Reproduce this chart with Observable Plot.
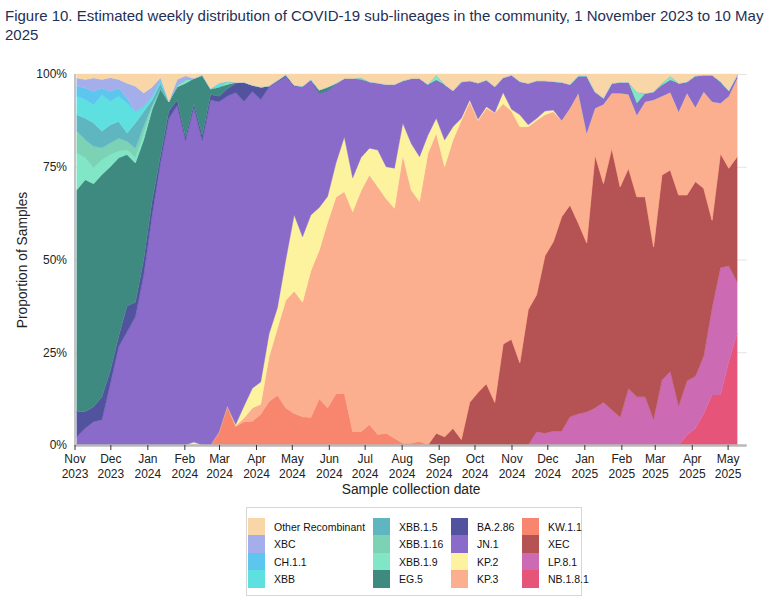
<!DOCTYPE html>
<html>
<head>
<meta charset="utf-8">
<script src="https://cdn.jsdelivr.net/npm/d3@7"></script>
<script src="https://cdn.jsdelivr.net/npm/@observablehq/plot@0.6"></script>
<style>
  html, body { margin: 0; padding: 0; background: #fff; }
  body { width: 772px; height: 604px; overflow: hidden; position: relative; font-family: "Liberation Sans", Arial, sans-serif; }
  #title { position: absolute; left: 5px; top: 6px; font-size: 15px; line-height: 19px; color: #1f2f56; white-space: nowrap; }
  #chart { position: absolute; left: 0; top: 60px; }
  #legend { position: absolute; left: 246px; top: 507px; width: 336px; height: 89px; border: 1px solid #d6d6d6; box-sizing: border-box; }
  .item { position: absolute; height: 17.6px; font-size: 10.5px; color: #111; }
  .sw { position: absolute; left: 0; top: 0; width: 17px; height: 17.6px; }
  .lab { position: absolute; top: 3px; white-space: nowrap; }
</style>
</head>
<body>
<div id="title">Figure 10. Estimated weekly distribution of COVID-19 sub-lineages in the community, 1 November 2023 to 10 May<br>2025</div>
<div id="chart"></div>
<div id="legend"></div>
<script>
// Weekly samples, starting with the week of 3 November 2023 (80 weeks)
const firstWeek = "2023-11-03";
const weekCount = 80;

// Sub-lineage names, bottom of the stack first
const lineages = ["NB.1.8.1", "LP.8.1", "XEC", "KW.1.1", "KP.3", "KP.2", "JN.1", "BA.2.86",
  "EG.5", "XBB.1.9", "XBB.1.16", "XBB.1.5", "XBB", "CH.1.1", "XBC", "Other Recombinant"];

const lineageColors = ["#e65579", "#cc6ab4", "#b55253", "#f8866f", "#fbaf8e", "#fdf39f", "#8a6bca", "#52539f",
  "#3e8a80", "#80e6c5", "#7cd2b4", "#5fb5c0", "#5ee0e0", "#5cc6ef", "#a4aeea", "#f8d6a7"];

// Legend layout: column by column, top to bottom
const legendOrder = ["Other Recombinant", "XBC", "CH.1.1", "XBB", "XBB.1.5", "XBB.1.16", "XBB.1.9", "EG.5",
  "BA.2.86", "JN.1", "KP.2", "KP.3", "KW.1.1", "XEC", "LP.8.1", "NB.1.8.1"];

// Weekly share of samples (%) for each sub-lineage
const nb181 = [0,0,0,0,0,0,0,0,0,0, 0,0,0,0,0,0,0,0,0,0, 0,0,0,0,0,0,0,0,0,0, 0,0,0,0,0,0,0,0,0,0,
  0,0,0,0,0,0,0,0,0,0, 0,0,0,0,0,0,0,0,0,0, 0,0,0,0,0,0,0,0,0,0, 0,0,0,2.7,4.5,8.5,13.5,13.5,22.5,30.1];
const lp81 = [0,0,0,0,0,0,0,0,0,0, 0,0,0,0,0,0,0,0,0,0, 0,0,0,0,0,0,0,0,0,0, 0,0,0,0,0,0,0,0,0,0,
  0,0,0,0,0,0,0,0,0,0, 0,0,0,0,0,3.6,3.2,3.8,3.8,7.6, 8.4,8.9,10.0,11.5,9.5,7.5,15.2,13.0,13.0,6.9,
  17.5,19.8,10.5,14.6,14.0,15.5,23.5,34.3,25.8,13.9];
const xec = [0,0,0,0,0,0,0,0,0,0, 0,0,0,0,0,0,0,0,0,0, 0,0,0,0,0,0,0,0,0,0, 0,0,0,0,0,0,0,0,0,0,
  0,0,0,3.2,2.2,4.5,1.5,11.5,14.2,16.5, 11.5,27.2,28.5,22.2,36.5,36.9,47.8,51.0,57.7,57.1,
  51.4,45.6,68.2,59.0,70.5,62.1,59.4,53.9,53.9,46.5, 55.3,54.3,56.9,50.1,52.5,45.2,23.6,30.8,26.3,33.7];
const kw11 = [0,0,0,0,0,0,0,0,0,0, 0,0,0,0,0,0,0,3.5,10.5,5.0, 6.3,6.4,8.3,11.7,13.4,10.0,8.5,7.6,7.4,12.5,
  10.0,13.8,13.9,3.6,3.6,5.5,2.8,3.2,1.8,0.5, 0.5,1.0,0,0,0,0,0,0,0,0, 0,0,0,0,0,0,0,0,0,0,
  0,0,0,0,0,0,0,0,0,0, 0,0,0,0,0,0,0,0,0,0];
const kp3 = [0,0,0,0,0,0,0,0,0,0, 0,0,0,0,0,0,0,0,0,0.2, 1.0,3.6,2.7,12.1,18.1,29.0,33.0,30.9,39.6,40.0,
  50.0,53.0,54.4,59.3,64.9,67.3,66.8,63.2,62.0,77.5, 68.2,64.6,78.6,80.8,72.8,77.7,86.0,81.0,73.3,74.3,
  78.0,64.8,61.5,63.6,49.3,47.0,38.0,35.0,26.0,26.1, 35.0,29.5,12.6,21.3,14.8,25.2,19.9,22.0,25.6,39.6,
  21.2,20.9,22.4,27.4,20.0,26.0,31.9,13.5,19.4,21.1];
const kp2 = [0,0,0,0,0,0,0,0,0,0, 0,0,0,0,0.8,0,0,0,0,0.3, 3.2,5.3,6.0,6.2,5.5,11.0,20.5,17.6,15.0,11.5,
  7.0,9.2,14.7,9.1,9.0,7.2,9.9,8.6,10.8,8.7, 12.6,12.1,4.9,4.1,7.2,3.6,0.6,0.5,0.3,0.4,
  0.1,3.0,0.5,3.2,0.5,0.5,1.0,0.5,0,0, 0,0,0,0,0,0,0,0,0,0, 0,0,0,0,0,0,0,0,0,0];
const jn1 = [2.2,4.5,6.3,6.8,16.5,26.5,30.5,34.6,46.0,62.0, 76.0,88.0,91.5,82.0,90.2,82.0,93.0,89.0,83.5,89.5,
  82.1,80.0,76.1,66.5,61.0,49.3,34.7,40.6,36.5,30.9, 28.5,21.5,15.8,26.8,21.0,17.9,18.1,22.2,22.6,11.5,
  17.5,21.1,13.7,10.3,15.0,9.7,9.8,5.2,9.8,7.2, 7.0,4.0,9.2,9.0,11.2,10.2,8.2,7.7,10.3,6.4,
  4.7,15.5,4.4,1.7,2.7,3.0,3.3,3.2,2.3,2.2, 3.0,3.4,7.7,3.1,8.5,4.5,7.2,5.9,1.5,0.9];
const ba286 = [6.8,4.5,4.0,6.2,3.5,2.8,7.0,3.9,4.0,3.8, 2.0,2.0,1.5,1.0,1.0,1.5,1.5,1.5,2.0,2.5,
  5.2,1.7,3.4,0.3,0.3,0.5,0.3,0,0,0, 0,0,0,0,0,0,0,0,0,0, 0,0,0,0,0,0,0,0,0,0,
  0,0,0,0,0,0,0,0,0,0, 0,0,0,0,0,0,0,0,0,0, 0,0,0,0,0,0,0,0,0,0];
const eg5 = [59.8,62.5,60.1,59.9,55.0,48.1,40.8,37.5,32.3,24.6, 18.0,2.5,3.5,14.5,6.8,16.2,1.5,2.5,1.2,0.2,
  0,0,0,0,0,0,0,0,0,0.8, 1.0,0,0,0,0,0,0,0,0,0, 0,0,0,0,0,0,0,0,0,0,
  0,0,0,0,0,0,0,0,0,0, 0,0,0,0,0,0,0,0,0,0, 0,0,0,0,0,0,0,0,0,0];
const xbb19 = [9.9,5.9,4.3,4.0,3.3,1.8,1.3,1.5,1.7,0.6, 0,0,0.5,1.0,0,0,0,0,0.8,0,
  0,0,0,0,0,0,0,0,0,0, 0,0,0,0,0.5,0,0,0,0,0, 0,0,0,1.3,0,0,0,0,0,0,
  0,0,0,0,0,0,0,0,0,0, 0,0,0,0,0,0,0,3.0,0,0, 0.5,1.0,0,0,0,0,0,0,0,0];
const xbb116 = [5.9,4.9,5.8,3.2,3.1,3.5,2.3,2.5,2.0,0.5, 0,0,0,0,0,0,0,0,0,0,
  0,0,0,0,0,0,0,0,0,0, 0,0,0,0,0,0,0,0,0,0, 0,0,0,0,0,0,0,0,0,0,
  0,0,0,0,0,0,0,0,0,0, 0,0,0,0,0,0,0,0,0,0, 0,0,0,0,0,0,0,0,0,0];
const xbb15 = [4.4,5.8,6.3,4.5,4.9,4.5,2.2,6.8,3.9,1.5, 1.5,0,0,0,0,0,0,0,0,0,
  0,0,0,0,0,0,0,0,0,0, 0,0,0,0,0,0,0,0,0,0, 0,0,0,0,0,0,0,0,0,0,
  0,0,0,0,0,0,0,0,0,0, 0,0,0,0,0,0,0,0,0,0, 0,0,0,0,0,0,0,0,0,0];
const xbb = [5.0,5.0,4.9,9.8,6.3,6.8,8.1,3.1,1.4,1.0, 1.0,0,0,0,0,0,0,1.0,0,0,
  0,0,0,0,0,0,0,0,0,0, 0,0,0,0,0,0,0,0,0,0, 0,0,0,0,0,0,0,0,0,0,
  0,0,0,0,0,0,0,0,0,0, 0,0,0,0,0,0,0,0,0,0, 0,0,0,0,0,0,0,0,0,0];
const ch11 = [2.7,3.1,3.6,1.8,2.7,2.2,1.3,0,0,0, 0,0,0,0,0,0,0,0,0,0,
  0,0,0,0,0,0,0,0,0,0, 0,0,0,0,0,0,0,0,0,0, 0,0,0,0,0,0,0,0,0,0,
  0,0,0,0,0,0,0,0,0,0, 0,0,0,0,0,0,0,0,0,0, 0,0,0,0,0,0,0,0,0,0];
const xbc = [2.2,2.3,3.6,2.3,3.7,2.3,4.0,6.8,3.6,2.5, 0.5,0,1.5,1.0,0,0,0,0,0,0,
  0,0,0,0,0,0,0,0,0,0, 0,0,0,0,0,0,0,0,0,0, 0,0,0,0,0,0,0,0,0,0,
  0,0,0,0,0,0,0,0,0,0, 0,0,0,0,0,0,0,0,0,0, 0,0,0,0,0,0,0,0,0,0];
const otherRecombinant = [1.1,1.5,1.1,1.5,1.0,1.5,2.5,3.3,5.1,3.5, 1.0,7.5,1.5,0.5,1.2,0.3,4.0,2.5,2.0,2.3,
  2.2,3.0,3.5,3.2,1.7,0.2,3.0,3.3,1.5,4.3, 3.5,2.5,1.2,1.2,1.0,2.1,2.4,2.8,2.8,1.8,
  1.2,1.2,2.8,0.3,2.8,4.5,2.1,1.8,2.4,1.6, 3.4,1.0,0.3,2.0,2.5,1.8,1.8,2.0,2.2,2.8,
  0.5,0.5,4.8,6.5,2.5,2.2,2.2,4.9,5.2,4.8, 2.5,0.6,2.5,2.1,0.5,0.3,0.3,2.0,4.5,0.3];

const seriesValues = [nb181, lp81, xec, kw11, kp3, kp2, jn1, ba286, eg5, xbb19, xbb116, xbb15, xbb, ch11, xbc, otherRecombinant];

// Month ticks along the x axis
const monthTicks = ["2023-11-01","2023-12-01","2024-01-01","2024-02-01","2024-03-01","2024-04-01","2024-05-01",
  "2024-06-01","2024-07-01","2024-08-01","2024-09-01","2024-10-01","2024-11-01","2024-12-01","2025-01-01",
  "2025-02-01","2025-03-01","2025-04-01","2025-05-01"];
const yTicks = [0, 0.25, 0.5, 0.75, 1];

const xStart = new Date("2023-11-01");
const xEnd = new Date("2025-05-17");

const weeks = d3.range(weekCount).map(k => d3.utcDay.offset(new Date(firstWeek), 7 * k));
const rows = [];
lineages.forEach((name, i) => {
  weeks.forEach((date, k) => rows.push({date, lineage: name, value: seriesValues[i][k]}));
});

const fmtMonth = d3.utcFormat("%b");
const fmtYear = d3.utcFormat("%Y");

const chart = Plot.plot({
  width: 772,
  height: 440,
  marginLeft: 74.5,
  marginRight: 25.3,
  marginTop: 14,
  marginBottom: 55,
  style: {fontFamily: "'Liberation Sans', Arial, sans-serif", fontSize: "12px", color: "#222", background: "transparent"},
  x: {type: "utc", domain: [xStart, xEnd]},
  y: {domain: [0, 1]},
  color: {domain: lineages, range: lineageColors},
  marks: [
    Plot.gridY(yTicks, {stroke: "#e2e2e2", strokeOpacity: 1}),
    Plot.areaY(rows, {x: "date", y: "value", z: "lineage", fill: "lineage", stroke: "lineage", strokeWidth: 0.4,
      order: lineages, offset: "normalize", curve: "linear"}),
    Plot.ruleY([0], {stroke: "#b9b9b9", strokeWidth: 2.5}),
    Plot.ruleX([xStart], {stroke: "#c4c4c4", strokeWidth: 2}),
    Plot.axisX(monthTicks.map(d => new Date(d)), {
      tickFormat: d => `${fmtMonth(d)}\n${fmtYear(d)}`, label: null,
      tickSize: 5, tickPadding: 3, lineHeight: 1.17, fontSize: 12, stroke: "#333"
    }),
    Plot.axisX({ticks: [], label: "Sample collection date", labelAnchor: "center", labelOffset: 48,
      labelArrow: "none", fontSize: 13.8, tickSize: 0}),
    Plot.axisY(yTicks, {
      tickFormat: d => `${Math.round(d * 100)}%`, label: null, tickSize: 0, tickPadding: 8, fontSize: 12
    }),
    Plot.axisY({ticks: [], label: "Proportion of Samples", labelAnchor: "center", labelOffset: 58,
      labelArrow: "none", fontSize: 13.8, tickSize: 0})
  ]
});
document.getElementById("chart").appendChild(chart);

// Legend: four columns of four entries
const legend = document.getElementById("legend");
const colX = [1, 126, 204, 275];
const labelGap = 26;
legendOrder.forEach((name, i) => {
  const col = Math.floor(i / 4), row = i % 4;
  const item = document.createElement("div");
  item.className = "item";
  item.style.left = colX[col] + "px";
  item.style.top = (9.5 + row * 17.6) + "px";
  const sw = document.createElement("div");
  sw.className = "sw";
  sw.style.background = lineageColors[lineages.indexOf(name)];
  const lab = document.createElement("span");
  lab.className = "lab";
  lab.style.left = labelGap + "px";
  lab.textContent = name;
  item.appendChild(sw);
  item.appendChild(lab);
  legend.appendChild(item);
});
</script>
</body>
</html>
